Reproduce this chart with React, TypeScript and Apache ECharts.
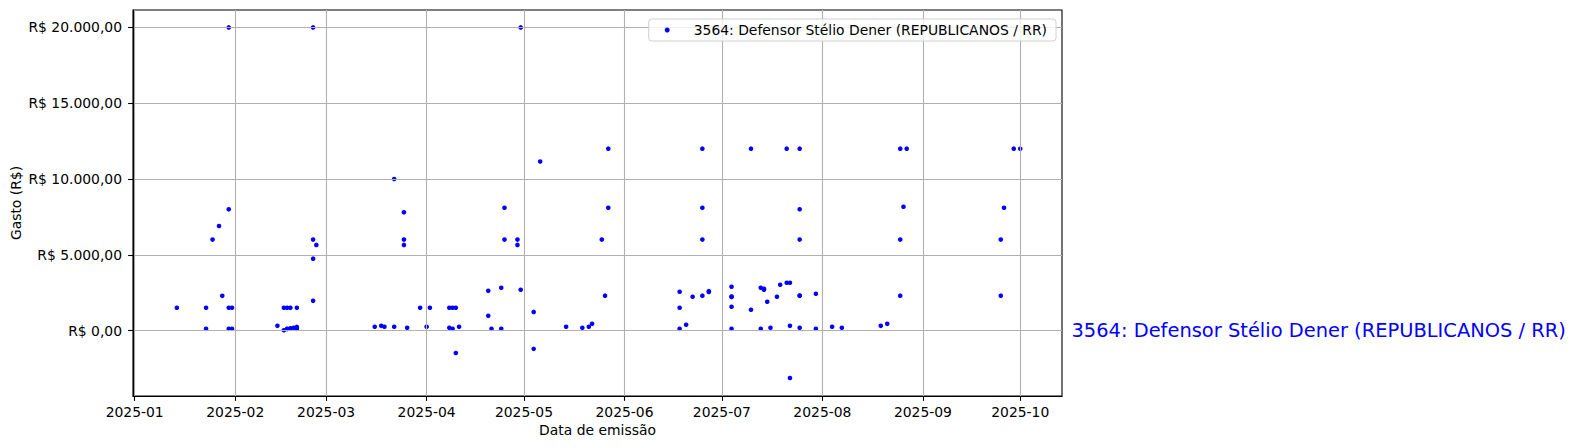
import React, { useEffect, useRef } from "react";
import * as echarts from "echarts";

const seriesName = "3564: Defensor Stélio Dener (REPUBLICANOS / RR)";

const emissionDates = [
  "2025-01-14", "2025-01-23", "2025-01-23", "2025-01-25", "2025-01-27", "2025-01-28",
  "2025-01-30", "2025-01-30", "2025-01-30", "2025-01-30", "2025-01-31", "2025-01-31",
  "2025-02-14", "2025-02-16", "2025-02-16", "2025-02-17", "2025-02-17", "2025-02-17",
  "2025-02-18", "2025-02-18", "2025-02-19", "2025-02-20", "2025-02-20", "2025-02-20",
  "2025-02-25", "2025-02-25", "2025-02-25", "2025-02-25", "2025-02-26",
  "2025-03-16", "2025-03-18", "2025-03-19", "2025-03-22", "2025-03-22", "2025-03-25",
  "2025-03-25", "2025-03-25", "2025-03-26", "2025-03-30",
  "2025-04-01", "2025-04-02", "2025-04-08", "2025-04-08", "2025-04-09", "2025-04-09",
  "2025-04-10", "2025-04-10", "2025-04-11", "2025-04-20", "2025-04-20", "2025-04-21",
  "2025-04-24", "2025-04-24", "2025-04-25", "2025-04-25", "2025-04-29", "2025-04-29",
  "2025-04-30", "2025-04-30",
  "2025-05-04", "2025-05-04", "2025-05-06", "2025-05-14", "2025-05-19", "2025-05-21",
  "2025-05-22", "2025-05-25", "2025-05-26", "2025-05-27", "2025-05-27",
  "2025-06-18", "2025-06-18", "2025-06-18", "2025-06-20", "2025-06-22", "2025-06-25",
  "2025-06-25", "2025-06-25", "2025-06-25", "2025-06-27", "2025-06-27",
  "2025-07-04", "2025-07-04", "2025-07-04", "2025-07-04", "2025-07-04", "2025-07-10",
  "2025-07-10", "2025-07-13", "2025-07-13", "2025-07-14", "2025-07-14", "2025-07-15",
  "2025-07-16", "2025-07-18", "2025-07-19", "2025-07-21", "2025-07-21", "2025-07-22",
  "2025-07-22", "2025-07-22", "2025-07-25", "2025-07-25", "2025-07-25", "2025-07-25",
  "2025-07-25", "2025-07-25", "2025-07-30", "2025-07-30",
  "2025-08-04", "2025-08-07", "2025-08-19", "2025-08-21", "2025-08-25", "2025-08-25",
  "2025-08-25", "2025-08-26", "2025-08-27",
  "2025-09-25", "2025-09-25", "2025-09-26", "2025-09-29", "2025-10-01",
];

const amounts = [
  1500, 1500, 110, 6000, 6900, 2290,
  20000, 8000, 1500, 110, 1500, 110,
  310, 1500, 20, 1500, 110, 100,
  1500, 150, 180, 1500, 240, 110,
  20000, 6000, 4740, 1960, 5650,
  250, 310, 250, 10000, 250, 7800,
  6000, 5650, 180, 1500,
  250, 1500, 180, 1500, 1500, 110,
  1500, -1480, 250, 2620, 970, 110,
  2820, 110, 8100, 6000, 6000, 5650,
  2690, 20000,
  1230, -1210, 11150, 250, 180, 250,
  440, 6000, 2300, 12000, 8100,
  2560, 1500, 110, 380, 2230, 12000,
  8100, 6000, 2300, 2600, 2550,
  2890, 2240, 2220, 1570, 110, 12000,
  1370, 2820, 110, 2750, 2690, 1900,
  180, 2230, 3020, 3150, 12000, 310,
  3150, -3130, 12000, 8000, 6000, 2290,
  2310, 180, 2430, 110,
  250, 180, 310, 440, 12000, 6000,
  2300, 8170, 12000,
  6000, 2300, 8100, 12000, 12000,
];

const yTicks = [0, 5000, 10000, 15000, 20000];
const monthTicks = [
  "2025-01-01", "2025-02-01", "2025-03-01", "2025-04-01", "2025-05-01",
  "2025-06-01", "2025-07-01", "2025-08-01", "2025-09-01", "2025-10-01",
];

const FONT = "DejaVu Sans";
const DAY = 86400000;

function toTs(s: string): number {
  const [y, m, d] = s.split("-").map(Number);
  return new Date(y, m - 1, d).getTime();
}

function brl(v: number): string {
  const neg = v < 0;
  const [ip, dp] = Math.abs(v).toFixed(2).split(".");
  const withDots = ip.replace(/\B(?=(\d{3})+(?!\d))/g, ".");
  return "R$ " + (neg ? "-" : "") + withDots + "," + dp;
}

function monthLabel(v: number): string {
  const d = new Date(v);
  return d.getFullYear() + "-" + String(d.getMonth() + 1).padStart(2, "0");
}

export default function App() {
  const ref = useRef<HTMLDivElement>(null);

  useEffect(() => {
    if (!ref.current) return;
    const chart = echarts.init(ref.current, undefined, { renderer: "svg" });
    const jan1 = toTs("2025-01-01");
    const xTickVals = monthTicks.map(toTs);
    const data = emissionDates.map((d, i) => [toTs(d), amounts[i]]);

    chart.setOption({
      animation: false,
      textStyle: { fontFamily: FONT },
      grid: {
        left: 133,
        right: 514,
        top: 10,
        bottom: 52,
        show: true,
        containLabel: false,
        outerBoundsMode: "none",
        borderColor: "#000",
        borderWidth: 1.1,
        backgroundColor: "transparent",
      },
      legend: {
        show: true,
        data: [seriesName],
        right: 520,
        top: 19,
        icon: "circle",
        itemWidth: 5,
        itemHeight: 5,
        padding: [3, 9, 3, 16],
        backgroundColor: "rgba(255,255,255,0.8)",
        borderColor: "#d0d0d0",
        borderWidth: 1,
        borderRadius: 3,
        textStyle: {
          fontFamily: FONT,
          fontSize: 13.9,
          color: "#000",
          lineHeight: 16,
          padding: [0, 0, 0, 19],
        },
      },
      xAxis: {
        type: "value",
        min: jan1 - 0.52 * DAY,
        max: jan1 + 285.87 * DAY,
        scale: true,
        z: 3,
        name: "Data de emissão",
        nameLocation: "middle",
        nameGap: 27,
        nameMoveOverlap: false,
        nameTextStyle: { fontFamily: FONT, fontSize: 13.9, color: "#000" },
        axisLine: { show: true, onZero: false, lineStyle: { color: "#000", width: 1.1 } },
        axisTick: {
          show: true,
          customValues: xTickVals,
          length: 4.9,
          lineStyle: { color: "#000", width: 1.1 },
        },
        axisLabel: {
          customValues: xTickVals,
          formatter: (v: number) => monthLabel(v),
          color: "#000",
          fontFamily: FONT,
          fontSize: 13.9,
          margin: 9,
          hideOverlap: false,
        },
        splitLine: { show: true, lineStyle: { color: "#b0b0b0", width: 1.1 } },
      },
      yAxis: {
        type: "value",
        min: -4320,
        max: 21150,
        z: 3,
        name: "Gasto (R$)",
        nameLocation: "middle",
        nameGap: 110,
        nameMoveOverlap: false,
        nameTextStyle: { fontFamily: FONT, fontSize: 13.9, color: "#000" },
        axisLine: { show: true, onZero: false, lineStyle: { color: "#000", width: 1.1 } },
        axisTick: {
          show: true,
          customValues: yTicks,
          length: 4.9,
          lineStyle: { color: "#000", width: 1.1 },
        },
        axisLabel: {
          customValues: yTicks,
          formatter: (v: number) => brl(v),
          color: "#000",
          fontFamily: FONT,
          fontSize: 13.9,
          margin: 11,
        },
        splitLine: { show: true, lineStyle: { color: "#b0b0b0", width: 1.1 } },
      },
      series: [
        {
          type: "scatter",
          name: seriesName,
          data,
          symbol: "circle",
          symbolSize: 4.6,
          z: 1,
          itemStyle: { color: "#0000ff", opacity: 1 },
        },
      ],
      graphic: [
        {
          type: "text",
          x: 1071.5,
          y: 330,
          style: {
            text: seriesName,
            fill: "#0000ff",
            font: "19.44px 'DejaVu Sans'",
            textAlign: "left",
            textVerticalAlign: "middle",
          },
        },
      ],
    });

    return () => chart.dispose();
  }, []);

  return <div ref={ref} style={{ width: 1576, height: 448, marginLeft: -8, marginTop: -8 }} />;
}
